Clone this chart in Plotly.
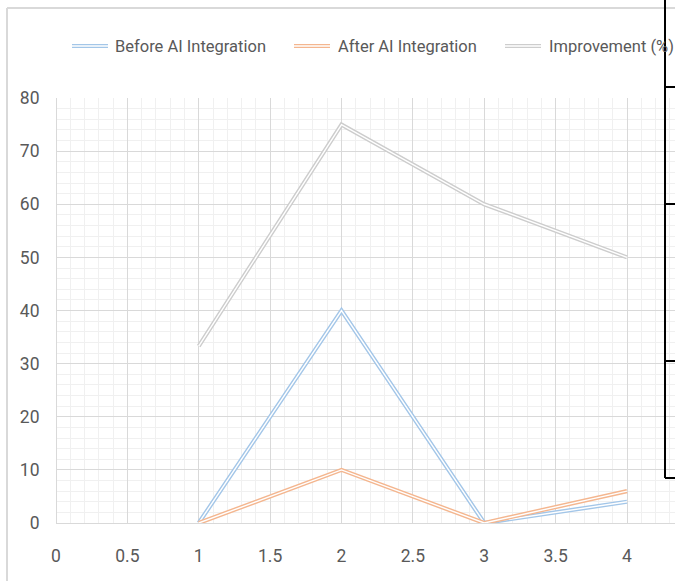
import plotly.graph_objects as go

# Data
x_vals = [1, 2, 3, 4]
before_ai = [0, 40, 0, 4]
after_ai = [0, 10, 0, 6]
improvement = [33.3, 75, 60, 50]
series_names = ["Before AI Integration", "After AI Integration", "Improvement (%)"]
series_colors = ["#a3c6e8", "#f4b68f", "#cdcdcd"]

W, H = 675, 581
L, R, T, B = 56, 0, 98, 58
PW, PH = W - L - R, H - T - B
UNIT_X = 142.75  # pixels per x unit


def px(x):
    return (x - L) / PW


def py(y):
    return (H - B - y) / PH


TXT = "#595959"
FONT = "Roboto, sans-serif"

fig = go.Figure()

# Compound (double) line: a coloured stroke with a white core on top
for vals, name, col in zip([before_ai, after_ai, improvement], series_names, series_colors):
    fig.add_trace(go.Scatter(x=x_vals, y=vals, mode="lines", name=name,
                             line=dict(color=col, width=4.2), showlegend=False,
                             hoverinfo="skip"))
    fig.add_trace(go.Scatter(x=x_vals, y=vals, mode="lines", name=name,
                             line=dict(color="white", width=1.4), showlegend=False))

shapes = []
annotations = []

# Outer chart frame (top and left edges visible)
shapes.append(dict(type="line", xref="paper", yref="paper", x0=px(7), x1=px(W), y0=py(8), y1=py(8),
                   line=dict(color="#d9d9d9", width=2), layer="below"))
shapes.append(dict(type="line", xref="paper", yref="paper", x0=px(7), x1=px(7), y0=py(8), y1=py(H),
                   line=dict(color="#d9d9d9", width=2), layer="below"))

# Legend row with double-line samples
legend_items = [(72, 113), (294, 336), (505, 547)]
for (sx, tx), name, col in zip(legend_items, series_names, series_colors):
    for w, c in [(4.2, col), (1.4, "white")]:
        shapes.append(dict(type="line", xref="paper", yref="paper",
                           x0=px(sx), x1=px(sx + 36), y0=py(46), y1=py(46),
                           line=dict(color=c, width=w)))
    annotations.append(dict(text=name, xref="paper", yref="paper", x=px(tx), y=py(47),
                            xanchor="left", yanchor="middle", showarrow=False,
                            font=dict(family=FONT, size=16.5, color=TXT)))

# Black bracket along the right edge
blk = dict(color="black", width=2)
shapes.append(dict(type="line", xref="paper", yref="paper", x0=px(665), x1=px(665),
                   y0=py(0), y1=py(478), line=blk))
for yy in [87, 204, 361, 478]:
    shapes.append(dict(type="line", xref="paper", yref="paper", x0=px(665), x1=px(W + 2),
                       y0=py(yy), y1=py(yy), line=blk))

fig.update_layout(
    width=W, height=H,
    margin=dict(l=L, r=R, t=T, b=B),
    paper_bgcolor="white", plot_bgcolor="white",
    showlegend=False,
    shapes=shapes,
    annotations=annotations,
    xaxis=dict(range=[0, PW / UNIT_X], dtick=0.5, tick0=0,
               showgrid=True, gridcolor="#d9d9d9", gridwidth=1,
               zeroline=True, zerolinecolor="#d9d9d9", zerolinewidth=1,
               minor=dict(dtick=0.1, showgrid=True, gridcolor="#f0f0f0", gridwidth=1),
               ticks="outside", ticklen=17, tickcolor="rgba(0,0,0,0)",
               tickfont=dict(family=FONT, size=17.5, color=TXT),
               showline=False, fixedrange=True),
    yaxis=dict(range=[0, 80], dtick=10,
               showgrid=True, gridcolor="#d9d9d9", gridwidth=1,
               zeroline=True, zerolinecolor="#d9d9d9", zerolinewidth=1,
               minor=dict(dtick=2, showgrid=True, gridcolor="#f0f0f0", gridwidth=1),
               ticks="outside", ticklen=12, tickcolor="rgba(0,0,0,0)",
               tickfont=dict(family=FONT, size=17.5, color=TXT),
               showline=False, fixedrange=True),
)

fig.write_html("out.html")
